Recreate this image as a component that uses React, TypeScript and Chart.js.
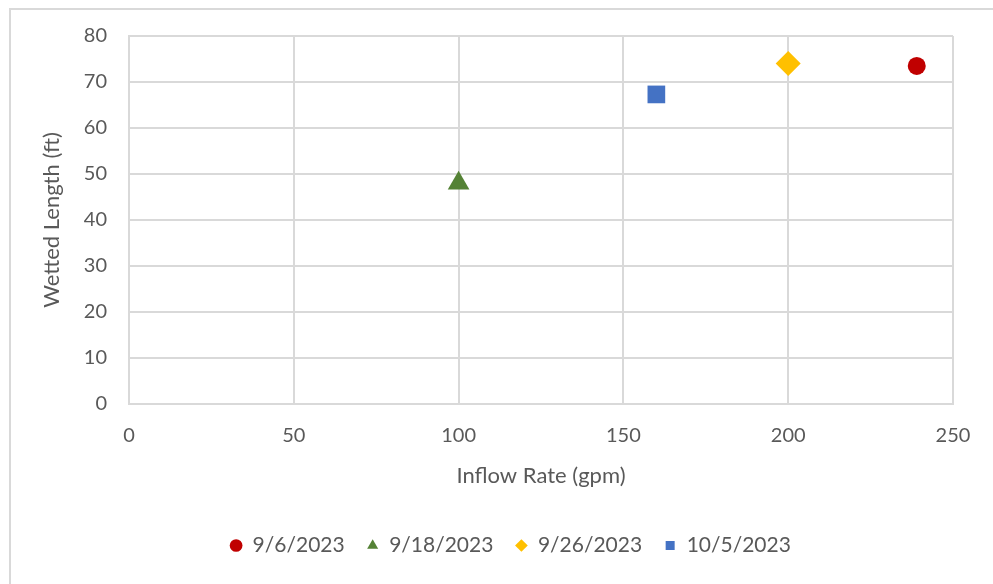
import React, { useEffect, useRef } from "react";
import { Chart, registerables } from "chart.js";

Chart.register(...registerables);

const seriesLabels = ["9/6/2023", "9/18/2023", "9/26/2023", "10/5/2023"];
const inflowRates = [239, 100, 200, 160];
const wettedLengths = [73.5, 48, 74, 67.3];
const seriesColors = ["#C00000", "#548235", "#FFC000", "#4472C4"];
const seriesShapes = ["circle", "triangle", "rectRot", "rect"];
const seriesRadii = [9, 12.5, 12.5, 12.5];

const xTitle = "Inflow Rate (gpm)";
const yTitle = "Wetted Length (ft)";

const FONT = "Lato, 'Open Sans', sans-serif";
const TEXT = "#595959";
const GRID = "#d9d9d9";

const framePlugin = {
  id: "frame",
  afterLayout(chart: any) {
    if (chart.legend) {
      chart.legend.left += 34;
      chart.legend.right += 34;
    }
  },
  beforeDraw(chart: any) {
    const ctx = chart.ctx;
    ctx.save();
    ctx.fillStyle = "#ffffff";
    ctx.fillRect(0, 0, chart.width, chart.height);
    ctx.strokeStyle = "#d9d9d9";
    ctx.lineWidth = 2;
    ctx.strokeRect(10, 9, 2000, 2000);
    ctx.restore();
  },
};

export default function App() {
  const ref = useRef<HTMLCanvasElement>(null);

  useEffect(() => {
    if (!ref.current) return;
    const chart = new Chart(ref.current, {
      type: "scatter",
      data: {
        datasets: seriesLabels.map((label, i) => ({
          label,
          data: [{ x: inflowRates[i], y: wettedLengths[i] }],
          pointStyle: seriesShapes[i] as any,
          pointRadius: seriesRadii[i],
          pointHoverRadius: seriesRadii[i],
          backgroundColor: seriesColors[i],
          borderColor: seriesColors[i],
          borderWidth: 0,
        })),
      },
      options: {
        responsive: false,
        animation: false,
        layout: { padding: { left: 0, right: 40, top: 36, bottom: 18 } },
        plugins: {
          tooltip: { enabled: false },
          legend: {
            position: "bottom",
            labels: {
              usePointStyle: true,
              boxHeight: 9,
              boxWidth: 12,
              padding: 22,
              color: TEXT,
              font: { family: FONT, size: 21 },
            },
          },
        },
        scales: {
          x: {
            type: "linear",
            min: 0,
            max: 250,
            afterFit: (s: any) => {
              s.height = 109;
            },
            ticks: {
              stepSize: 50,
              color: TEXT,
              padding: 20,
              font: { family: FONT, size: 20 },
            },
            grid: { color: GRID, lineWidth: 2, drawTicks: false },
            border: { color: GRID, width: 2 },
            title: {
              display: true,
              text: xTitle,
              color: TEXT,
              font: { family: FONT, size: 22 },
              padding: { top: 0, bottom: 24 },
            },
          },
          y: {
            type: "linear",
            min: 0,
            max: 80,
            afterFit: (s: any) => {
              s.width = 129;
            },
            ticks: {
              stepSize: 10,
              color: TEXT,
              padding: 22,
              font: { family: FONT, size: 20 },
            },
            grid: { color: GRID, lineWidth: 2, drawTicks: false },
            border: { color: GRID, width: 2 },
            title: {
              display: true,
              text: yTitle,
              color: TEXT,
              font: { family: FONT, size: 22 },
              padding: { top: 39, bottom: 0 },
            },
          },
        },
      },
      plugins: [framePlugin],
    });
    return () => chart.destroy();
  }, []);

  return (
    <div style={{ position: "absolute", left: 0, top: 0, width: 993, height: 584 }}>
      <canvas ref={ref} width={993} height={584} />
    </div>
  );
}
